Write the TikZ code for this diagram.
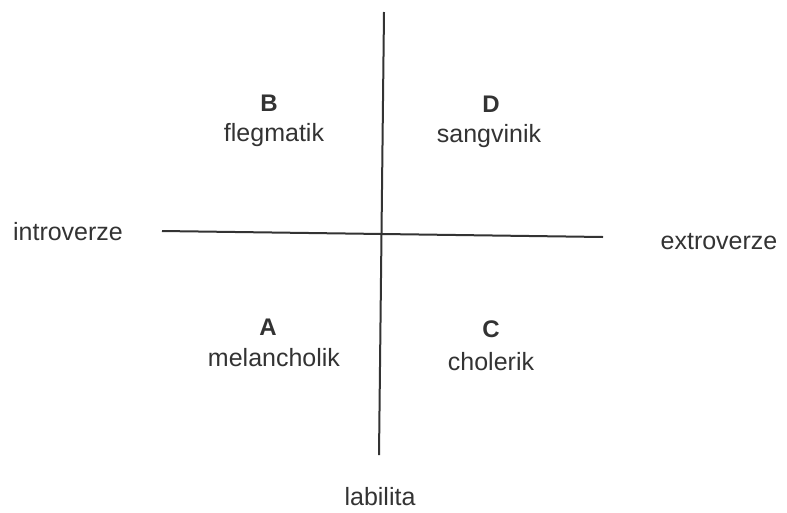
\documentclass[tikz,border=0pt]{standalone}
\usepackage{fontspec}
\setmainfont{Liberation Sans}
\begin{document}
\begin{tikzpicture}[x=1pt,y=-1pt,
  lbl/.style={font=\fontsize{25}{30}\selectfont, text=black!80, inner sep=0pt},
  let/.style={font=\fontsize{24}{28}\selectfont\bfseries, text=black!80, inner sep=0pt},
  axis/.style={draw=black!80, line width=2pt}]
\useasboundingbox (0,0) rectangle (787,512);
\coordinate (vt) at (384,12);
\coordinate (vb) at (379,455);
\coordinate (hl) at (162,231);
\coordinate (hr) at (603,237);
\draw[axis] (vt) -- (vb);
\draw[axis] (hl) -- (hr);
\node[lbl] (intro) at (68,232) {introverze};
\node[lbl] (extro) at (719,242) {extroverze};
\node[lbl] (lab) at (380,497) {labilita};
\node[let] (B) at (269,103) {B};
\node[lbl] (flegm) at (274,135) {flegmatik};
\node[let] (D) at (491,104) {D};
\node[lbl] (sang) at (489,136) {sangvinik};
\node[let] (A) at (268,327) {A};
\node[lbl] (mel) at (274,358) {melancholik};
\node[let] (C) at (491,329) {C};
\node[lbl] (chol) at (491,362) {cholerik};
\end{tikzpicture}
\end{document}
